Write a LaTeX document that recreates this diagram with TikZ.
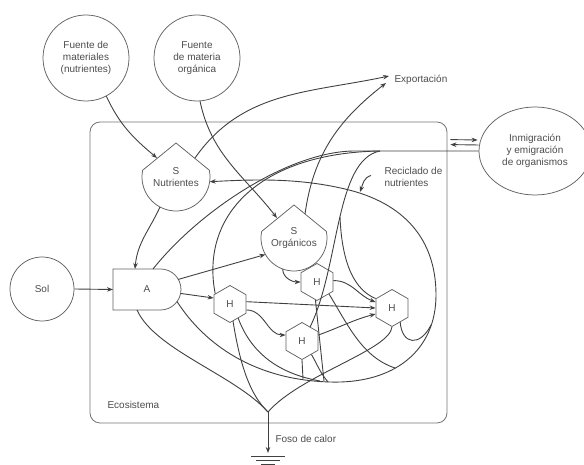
\documentclass[tikz,border=0pt]{standalone}
\usepackage{fontspec}
\setmainfont{Liberation Sans}
\usetikzlibrary{arrows.meta,shapes.geometric,calc}

\begin{document}
\begin{tikzpicture}[x=1pt,y=1pt,>={Stealth[length=6pt,width=4.5pt]},
    every node/.style={font=\fontsize{10}{12}\selectfont,text=black!70},
    flow/.style={draw=black!75,line width=0.9pt},
    rim/.style={draw=black!62,line width=0.75pt},
    source/.style={circle,rim,align=center,inner sep=0pt},
    store/.style={circle,align=center,inner sep=0pt,outer sep=0pt},
    cons/.style={regular polygon,regular polygon sides=6,shape border rotate=30,
      rim,minimum size=37pt,inner sep=0pt}]
  \useasboundingbox (0,0) rectangle (584,465);
  % ecosystem boundary
  \node[draw=black!55,line width=0.8pt,rounded corners=10pt,minimum width=357pt,
    minimum height=301pt,inner sep=0pt] (eco) at (268.5,192.5) {};
  \node[anchor=west] (ecolbl) at (104,60) {Ecosistema};
  % outside sources
  \node[source,minimum size=86pt] (fmat) at (86,407) {Fuente de\\materiales\\(nutrientes)};
  \node[source,minimum size=86pt] (forg) at (197,407) {Fuente\\de materia\\orgánica};
  \node[source,minimum size=64pt] (sol) at (42,176) {Sol};
  \node[source,ellipse,minimum width=112pt,minimum height=88pt] (inmig) at (535,314)
    {Inmigración\\y emigración\\de organismos};
  % storages
  \node[store,minimum size=68pt] (snut) at (176,288) {S\\Nutrientes};
  \node[store,minimum size=66pt] (sorg) at (294,227) {S\\Orgánicos};
  \draw[rim] ($(snut)+(0,34)$) -- ($(snut)+(168.5:34)$)
    arc[start angle=168.5,end angle=371.5,radius=34pt] -- cycle;
  \draw[rim] ($(sorg)+(0,33)$) -- ($(sorg)+(168.5:33)$)
    arc[start angle=168.5,end angle=371.5,radius=33pt] -- cycle;
  % producer
  \node[store,rectangle,minimum width=68pt,minimum height=41pt] (prod) at (147,175.5) {A};
  \draw[rim] (prod.north west) -- ($(prod.north east)+(-20.5,0)$)
    arc[start angle=90,end angle=-90,radius=20.5pt] -- (prod.south west) -- cycle;
  % consumers
  \node[cons] (h1) at (230,161) {H};
  \node[cons] (h2) at (317,183) {H};
  \node[cons] (h3) at (302,124) {H};
  \node[cons] (h4) at (392,157) {H};
  % labels
  \node[anchor=west] (expo) at (391,385) {Exportación};
  \node[anchor=west,align=left] (recic) at (381,288.5) {Reciclado de\\nutrientes};
  \node[anchor=west] (foso) at (272,26) {Foso de calor};
  % inputs
  \draw[flow,->] (fmat.-62) to[out=-65,in=140] ($(snut)+(-19,19)$);
  \draw[flow,->] (forg.-86) to[out=-78,in=128] ($(sorg)+(-17,20)$);
  \draw[flow,->] (sol.east) -- (prod.west);
  \draw[flow,->] (snut.242) to[out=245,in=85] ($(prod.north)+(-12,0)$);
  % exports
  \draw[flow,->] ($(snut)+(19,19)$) to[out=55,in=192] ($(expo.west)+(-2,4)$);
  \draw[flow,->] ($(sorg)+(11,24)$) to[out=82,in=218] ($(expo.west)+(-5,-3)$);
  % producer and consumer flows
  \draw[flow,->] ($(prod)+(31,10)$) -- (sorg.210);
  \draw[flow,->] ($(prod)+(34,-4)$) -- (h1.160);
  \draw[flow,->] (sorg.250) to[out=-90,in=180] (h2.west);
  \draw[flow,->] (h1.8) -- (h4.west);
  \draw[flow,->] (h1.-20) to[out=0,in=180] (h3.160);
  \draw[flow,->] (h2.5) to[out=0,in=160] (h4.160);
  \draw[flow,->] (h3.20) to[out=20,in=195] (h4.200);
  % immigration and emigration
  \draw[flow,->] ($(eco.north east)+(3,-18)$) -- ($(inmig.west)+(-1,11)$);
  \draw[flow,->] ($(inmig.west)+(0,6)$) -- ($(eco.north east)+(3,-23)$);
  \draw[flow] (inmig.west) -- (355,314) .. controls (290,314) and (200,255) .. ($(prod.north)+(6,0)$);
  \draw[flow] (h1.145) .. controls (200,250) and (260,312) .. (380,314);
  \draw[flow] (h3.60) .. controls (340,200) and (335,305) .. (380,314);
  \draw[flow] (h4.150) .. controls (355,175) and (342,200) .. (340,248);
  % recycling loop
  \draw[flow,->] ($(prod)+(30,-12)$) .. controls (205,120) and (255,85) .. (330,83)
    .. controls (395,81) and (436,115) .. (436,170)
    .. controls (436,225) and (405,262) .. (345,276)
    .. controls (300,286.5) and (260,286) .. (snut.-8);
  \draw[flow] (h1.-60) .. controls (250,115) and (275,92) .. (320,84);
  \draw[flow] (h2.-95) -- (324,84);
  \draw[flow] (h2.-45) .. controls (348,140) and (362,108) .. (395,97);
  \draw[flow] (h3.south) -- (303,86);
  \draw[flow] (h3.-55) to[out=-60,in=130] (328,83);
  \draw[flow] (h4.-60) .. controls (402,120) and (420,118) .. (431,140);
  \draw[flow,->] ($(recic.west)+(-10,1)$) to[out=195,in=70] (360,273);
  % heat sink
  \coordinate (sink) at (268,53);
  \coordinate (ground) at (268,12);
  \draw[flow] ($(prod.south)+(-10,0)$) .. controls (155,115) and (235,90) .. (sink);
  \draw[flow] (h1.-80) .. controls (240,100) and (250,70) .. (sink);
  \draw[flow] (h4.south) .. controls (390,115) and (300,90) .. (sink);
  \draw[flow,->] (sink) -- (ground);
  \draw[flow] ($(ground)+(-17,-3)$) -- ++(34,0);
  \draw[flow] ($(ground)+(-12,-7)$) -- ++(24,0);
  \draw[flow] ($(ground)+(-7,-11)$) -- ++(14,0);
\end{tikzpicture}
\end{document}
